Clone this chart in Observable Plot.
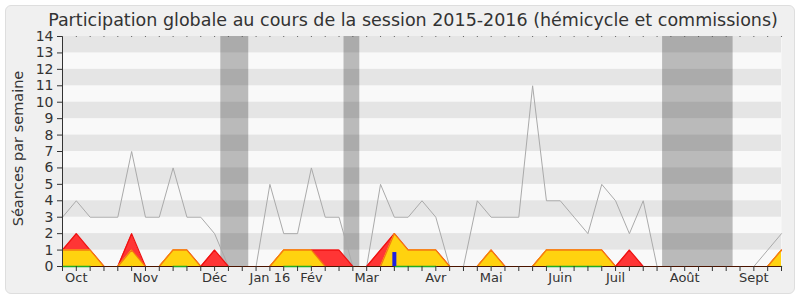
<!DOCTYPE html>
<html><head><meta charset="utf-8">
<script src="https://cdn.jsdelivr.net/npm/d3@7"></script>
<script src="https://cdn.jsdelivr.net/npm/@observablehq/plot@0.6"></script>
<style>
body{margin:0;background:#fff;}
#wrap{position:relative;width:800px;height:300px;font-family:"DejaVu Sans",sans-serif;}
#panel{position:absolute;left:5px;top:5px;width:788px;height:287px;background:#f0f0f0;border:1px solid #dedede;border-radius:6px;}
#chart{position:absolute;left:0;top:0;}
</style></head><body>
<div id="wrap"><div id="panel"></div><div id="chart"></div></div>
<script>
const title = "Participation globale au cours de la session 2015-2016 (hémicycle et commissions)";
const yLabel = "Séances par semaine";
// one value per week, week 0 .. 52
const totalSeances = [3,4,3,3,3,7,3,3,6,3,3,2,0,0,0,5,2,2,6,3,3,0,0,5,3,3,4,3,0,0,4,3,3,3,11,4,4,3,2,5,4,2,4,0,0,0,0,0,0,0,0,1,2];
const presenceRed  = [1,2,1,0,0,2,0,0,1,1,0,1,0,0,0,0,1,1,1,1,1,0,0,1,2,1,1,1,0,0,0,1,0,0,0,1,1,1,1,1,0,1,0,0,0,0,0,0,0,0,0,0,1];
const presenceYellow = [1,1,1,0,0,1,0,0,1,1,0,0,0,0,0,0,1,1,1,0,0,0,0,0,2,1,1,1,0,0,0,1,0,0,0,1,1,1,1,1,0,0,0,0,0,0,0,0,0,0,0,0,1];
const blueWeeks = [24];
const blueValues = [0.85];
const monthWeeks = [1,6,11,15,18,22,27,31,36,40,45,50];
const monthLabels = ["Oct","Nov","Déc","Jan 16","Fév","Mar","Avr","Mai","Juin","Juil","Août","Sept"];
const yTicks = [0,1,2,3,4,5,6,7,8,9,10,11,12,13,14];
const darkStripes = [1,3,5,7,9,11,13];
const vacationStart = [11.45,20.36,43.4];
const vacationEnd = [13.47,21.5,48.5];

const rows = totalSeances.map((t,i)=>({week:i,total:t,red:presenceRed[i],yellow:presenceYellow[i]}));
const vacations = vacationStart.map((s,i)=>({s,e:vacationEnd[i]}));
const blues = blueWeeks.map((w,i)=>({w,v:blueValues[i]}));
const weekTicks = rows.map(r=>r.week);

const plot = Plot.plot({
  width:800,height:300,marginLeft:62,marginRight:19,marginTop:36,marginBottom:34,
  style:{background:"transparent",fontFamily:"DejaVu Sans",fontSize:"13px",color:"#333",overflow:"visible"},
  x:{domain:[0,52]},
  y:{domain:[0,14]},
  marks:[
    Plot.frame({fill:"#f9f9f9",stroke:"none"}),
    Plot.rect(darkStripes,{x1:()=>0,x2:()=>52,y1:d=>d,y2:d=>d+1,fill:"#e5e5e5"}),
    Plot.rect(vacations,{x1:"s",x2:"e",y1:()=>0,y2:()=>14,fill:"#000",fillOpacity:0.25}),
    Plot.lineY(rows,{x:"week",y:"total",stroke:"#aaaaaa",strokeWidth:1}),
    Plot.areaY(rows,{x:"week",y:"red",fill:"#ff3535"}),
    Plot.lineY(rows,{x:"week",y:"red",stroke:"#ee1111",strokeWidth:1.2}),
    Plot.areaY(rows,{x:"week",y:"yellow",fill:"#ffd20f"}),
    Plot.lineY(rows,{x:"week",y:"yellow",stroke:"#f57a10",strokeWidth:1.2}),
    Plot.ruleY([0],{stroke:"#4a1400",strokeWidth:1.2}),
    Plot.lineY(rows,{x:"week",y:d=>d.yellow>0?0:NaN,stroke:"#22aa22",strokeWidth:1.5}),
    Plot.ruleX(blues,{x:"w",y1:()=>0,y2:"v",stroke:"#2020e0",strokeWidth:4}),
    Plot.ruleX([0],{stroke:"#333"}),
    Plot.dot(rows,{x:"week",y:()=>14,r:0.6,fill:"#555",stroke:"none"}),
    Plot.axisX({ticks:weekTicks,tickFormat:()=>"",tickSize:5,label:null}),
    Plot.axisX({ticks:monthWeeks,tickFormat:d=>monthLabels[monthWeeks.indexOf(d)],tickSize:0,tickPadding:6,label:null,fontSize:13}),
    Plot.axisY({ticks:yTicks,tickSize:5,tickPadding:4,label:null,fontSize:14}),
    Plot.text([yLabel],{frameAnchor:"left",textAnchor:"middle",dx:-44,dy:-3,rotate:-90,fontSize:14.5,fill:"#333"}),
    Plot.text([title],{frameAnchor:"top",dx:-9,dy:-23,fontSize:17.5,fill:"#333"})
  ]
});
document.getElementById("chart").appendChild(plot);
</script>
</body></html>
